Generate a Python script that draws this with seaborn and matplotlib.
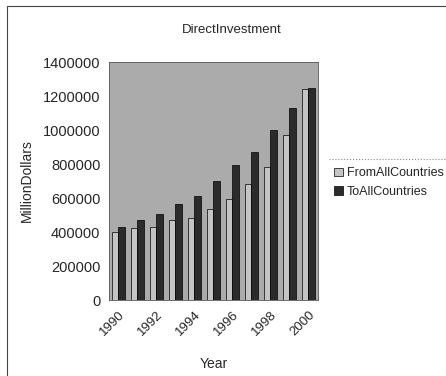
import pandas as pd
import numpy as np
import matplotlib
matplotlib.use("Agg")
import matplotlib.pyplot as plt
import seaborn as sns
from matplotlib.lines import Line2D
from matplotlib.patches import Rectangle

# Données
years = [1990, 1991, 1992, 1993, 1994, 1995, 1996, 1997, 1998, 1999, 2000]
from_all = [398000, 422000, 427000, 469000, 482000, 535000, 596000, 684000, 780000, 970000, 1239000]
to_all = [431000, 470000, 504000, 563000, 614000, 700000, 796000, 871000, 1000000, 1129000, 1245000]
series = ["FromAllCountries", "ToAllCountries"]
tick_years = ["1990", "1992", "1994", "1996", "1998", "2000"]

df = pd.DataFrame({
    "Year": [str(y) for y in years] * 2,
    "MillionDollars": from_all + to_all,
    "Serie": [series[0]] * len(years) + [series[1]] * len(years),
})

sns.set_style("white")
plt.rcParams["font.family"] = ["Liberation Sans", "DejaVu Sans"]

fig = plt.figure(figsize=(4.46, 3.76), dpi=100)
ax = fig.add_axes([0.244, 0.202, 0.469, 0.633])
ax.set_facecolor("#ababab")

sns.barplot(data=df, x="Year", y="MillionDollars", hue="Serie",
            palette=["#c4c4c4", "#2b2b2b"], width=0.7, edgecolor="black",
            linewidth=0.5, ax=ax, legend=False)

ax.set_ylim(0, 1400000)
ax.set_xlim(-0.5, len(years) - 0.5)
ax.set_yticks(np.arange(0, 1400001, 200000))
ax.set_yticklabels([str(v) for v in range(0, 1400001, 200000)], fontsize=10.5)
ax.set_xticks([years.index(int(t)) for t in tick_years])
ax.set_xticklabels(tick_years, rotation=45, ha="right", rotation_mode="anchor", fontsize=9.5)
ax.tick_params(axis="both", length=0, pad=6)
for s in ax.spines.values():
    s.set_linewidth(0.6)
    s.set_color("#555555")

ax.set_ylabel("MillionDollars", fontsize=10)
ax.set_xlabel("Year", fontsize=10)
ax.yaxis.set_label_coords(-0.36, 0.5)
ax.xaxis.set_label_coords(0.5, -0.24)

fig.text(0.52, 0.92, "DirectInvestment", ha="center", va="center", fontsize=9.5)

handles = [Rectangle((0, 0), 1, 1, facecolor=c, edgecolor="black", linewidth=0.5)
           for c in ["#c4c4c4", "#2b2b2b"]]
fig.legend(handles, series, loc="upper left", bbox_to_anchor=(0.738, 0.568),
           frameon=False, fontsize=9, handlelength=0.7, handleheight=0.7,
           handletextpad=0.3, labelspacing=0.5, borderaxespad=0)
fig.add_artist(Line2D([0.738, 1.0], [0.578, 0.578], color="#888888",
                      linestyle=":", linewidth=0.8))

# cadre autour de la figure
fig.add_artist(Rectangle((0.015, -0.01), 1.0, 0.995, fill=False,
                         edgecolor="#444444", linewidth=0.8))

fig.savefig("out.png", dpi=100)
